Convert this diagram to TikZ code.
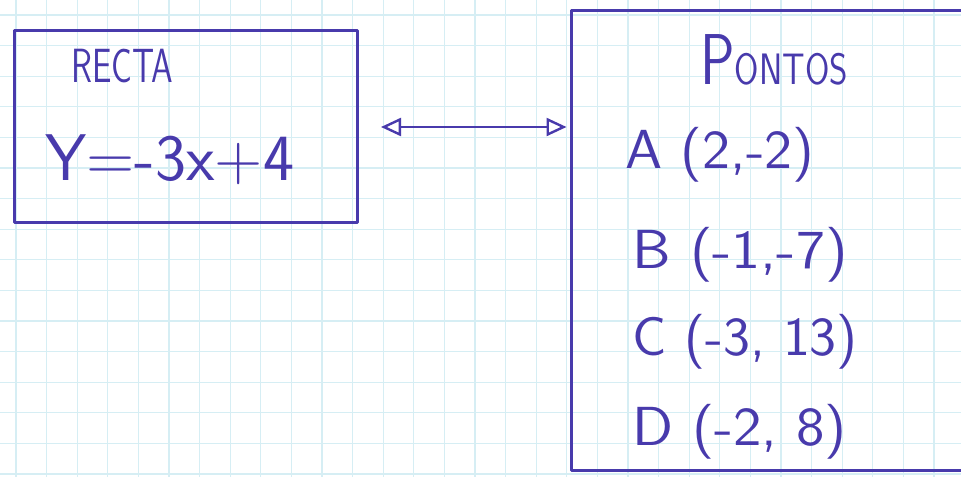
\documentclass[tikz,border=0pt]{standalone}
\usetikzlibrary{arrows.meta}
\definecolor{ink}{RGB}{72,58,172}
\definecolor{gridc}{RGB}{214,238,244}
\begin{document}
\begin{tikzpicture}[x=1pt,y=-1pt,
  pen/.style={draw=ink,line width=3pt,line cap=round,line join=round},
  box/.style={pen,rectangle,inner sep=0pt},
  hand/.style={text=ink,font=\sffamily,inner sep=0pt},
  gridline/.style={draw=gridc,line width=1.1pt}]
\useasboundingbox (0,0) rectangle (961,477);
\clip (0,0) rectangle (961,477);
\fill[white] (0,0) rectangle (961,477);
% grid paper
\foreach \i in {0,...,31} {
  \draw[gridline] ({16+30.6*\i},0) -- ({16+30.6*\i},477);
}
\foreach \j in {0,...,15} {
  \draw[gridline] (0,{15+30.6*\j}) -- (961,{15+30.6*\j});
}
% boxes
\node[box,minimum width=343pt,minimum height=192pt] (recta) at (186,126) {};
\node[box,minimum width=450pt,minimum height=460pt] (pontos) at (796,240) {};
% texts
\node[hand,anchor=base west] (rt) at (71,82) {\scalebox{0.72}[1]{\fontsize{48}{48}\selectfont RECTA}};
\node[hand,anchor=base west] (eq) at (45,180) {\fontsize{66}{66}\selectfont Y=-3x+4};
\node[hand,anchor=base west] (pt) at (700,84) {\scalebox{0.8}[1]{\fontsize{72}{72}\selectfont P\fontsize{44}{44}\selectfont ONTOS}};
\node[hand,anchor=base west] (pa) at (625,168) {\scalebox{1.08}[1]{\fontsize{55}{55}\selectfont A (2,-2)}};
\node[hand,anchor=base west] (pb) at (632,268) {\scalebox{1.12}[1]{\fontsize{55}{55}\selectfont B (-1,-7)}};
\node[hand,anchor=base west] (pc) at (632,355) {\scalebox{1.04}[1]{\fontsize{55}{55}\selectfont C (-3, 13)}};
\node[hand,anchor=base west] (pd) at (632,445) {\scalebox{1.1}[1]{\fontsize{55}{55}\selectfont D (-2, 8)}};
% connector
\draw[pen,line width=2.4pt,{Triangle[open,length=20pt,width=18pt]}-{Triangle[open,length=20pt,width=18pt]},
  shorten <=22pt,shorten >=3pt] (recta.east |- 0,127) -- (pontos.west |- 0,127);
\end{tikzpicture}
\end{document}
